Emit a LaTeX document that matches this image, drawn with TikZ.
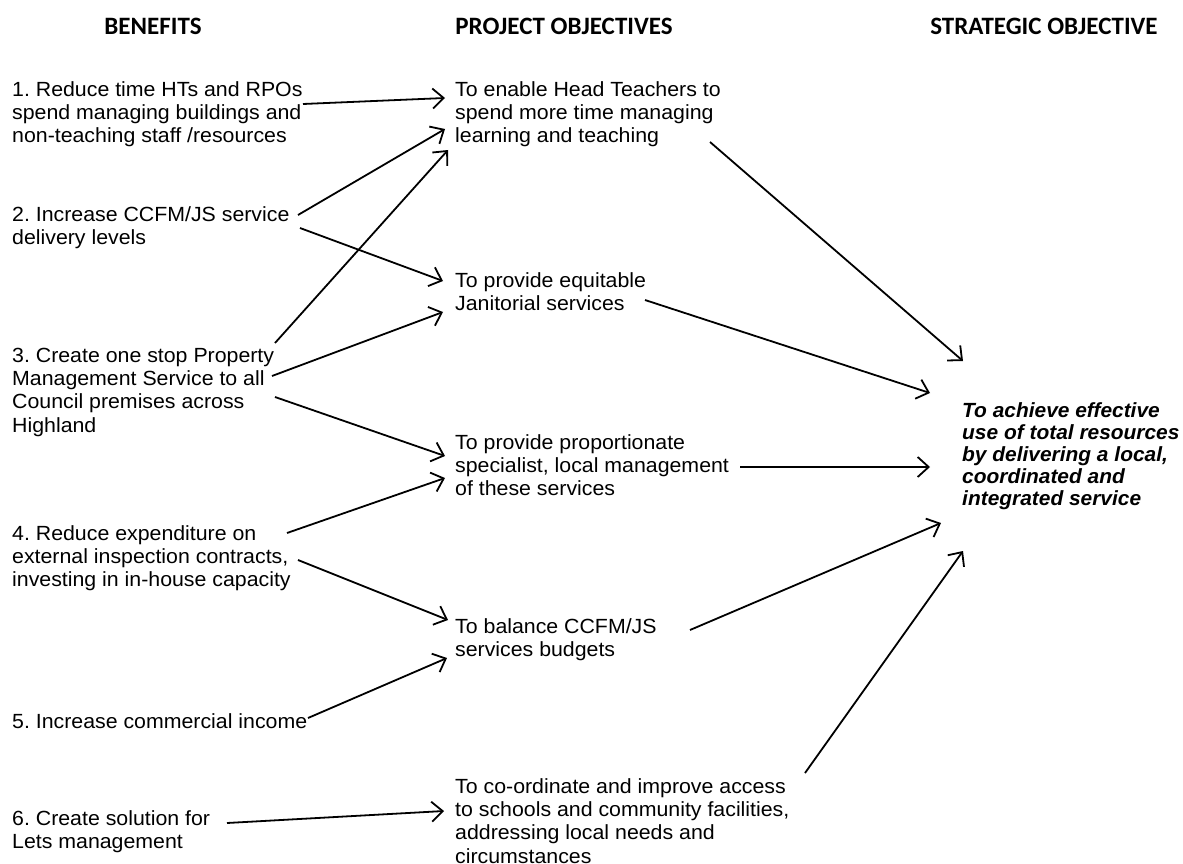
\documentclass[tikz,border=0pt]{standalone}
\usepackage{fontspec}
\setmainfont{Liberation Sans}[FakeStretch=1.04]
\newfontfamily\stratfont{Liberation Sans}[FakeStretch=1.02]
\newfontfamily\hdfont{Carlito}
\usetikzlibrary{arrows.meta}
\frenchspacing
\begin{document}
\begin{tikzpicture}[x=1pt,y=-1pt,
  txt/.style={anchor=north west,inner sep=0pt,align=left,font=\fontsize{20.5}{23.3}\selectfont},
  strat/.style={anchor=north west,inner sep=0pt,align=left,font=\fontsize{20.5}{22}\selectfont\stratfont\bfseries\itshape},
  hdr/.style={anchor=base,inner sep=0pt,font=\fontsize{25}{30}\selectfont\hdfont\bfseries},
  arr/.style={line width=1.8pt,-{Straight Barb[length=11pt,width=20pt,line width=1.8pt]}}]
\useasboundingbox (0,0) rectangle (1183,864);
% headers
\node[hdr] (h1) at (153,35) {BENEFITS};
\node[hdr] (h2) at (564,35) {PROJECT OBJECTIVES};
\node[hdr] (h3) at (1044,35) {STRATEGIC OBJECTIVE};
% benefits (top = baseline - 0.7*baselineskip)
\node[txt] (b1) at (12,79.7) {\strut 1. Reduce time HTs and RPOs\\spend managing buildings and\\non-teaching staff /resources};
\node[txt] (b2) at (12,204.7) {\strut 2. Increase CCFM/JS service\\delivery levels};
\node[txt] (b3) at (12,345.7) {\strut 3. Create one stop Property\\Management Service to all\\Council premises across\\Highland};
\node[txt] (b4) at (12,523.7) {\strut 4. Reduce expenditure on\\external inspection contracts,\\investing in in-house capacity};
\node[txt] (b5) at (12,711.7) {\strut 5. Increase commercial income};
\node[txt] (b6) at (12,808.7) {\strut 6. Create solution for\\Lets management};
% project objectives
\node[txt] (p1) at (455,79.7) {\strut To enable Head Teachers to\\spend more time managing\\learning and teaching};
\node[txt] (p2) at (455,270.7) {\strut To provide equitable\\Janitorial services};
\node[txt] (p3) at (455,432.7) {\strut To provide proportionate\\specialist, local management\\of these services};
\node[txt] (p4) at (455,616.7) {\strut To balance CCFM/JS\\services budgets};
\node[txt] (p5) at (455,776.7) {\strut To co-ordinate and improve access\\to schools and community facilities,\\addressing local needs and\\circumstances};
% strategic objective
\node[strat] (s1) at (962,401.6) {\strut To achieve effective\\use of total resources\\by delivering a local,\\coordinated and\\integrated service};
% connector end points
\coordinate (a1s) at (303,104);  \coordinate (a1e) at (445,98);
\coordinate (a2s) at (298,215);  \coordinate (a2e) at (445,129);
\coordinate (a3s) at (300,228);  \coordinate (a3e) at (443,281);
\coordinate (a4s) at (275,343);  \coordinate (a4e) at (448,150);
\coordinate (a5s) at (272,376);  \coordinate (a5e) at (443,312);
\coordinate (a6s) at (275,397);  \coordinate (a6e) at (445,456);
\coordinate (a7s) at (287,533);  \coordinate (a7e) at (445,478);
\coordinate (a8s) at (298,560);  \coordinate (a8e) at (448,620);
\coordinate (a9s) at (308,718);  \coordinate (a9e) at (447,658);
\coordinate (a10s) at (227,823); \coordinate (a10e) at (444,811);
\coordinate (c1s) at (710,142);  \coordinate (c1e) at (963,361);
\coordinate (c2s) at (645,300);  \coordinate (c2e) at (930,393);
\coordinate (c3s) at (740,467);  \coordinate (c3e) at (930,467);
\coordinate (c4s) at (690,630);  \coordinate (c4e) at (941,523);
\coordinate (c5s) at (805,773);  \coordinate (c5e) at (963,551);
\foreach \a in {a1,a2,a3,a4,a5,a6,a7,a8,a9,a10,c1,c2,c3,c4,c5}
  \draw[arr] (\a s) -- (\a e);
\end{tikzpicture}
\end{document}
